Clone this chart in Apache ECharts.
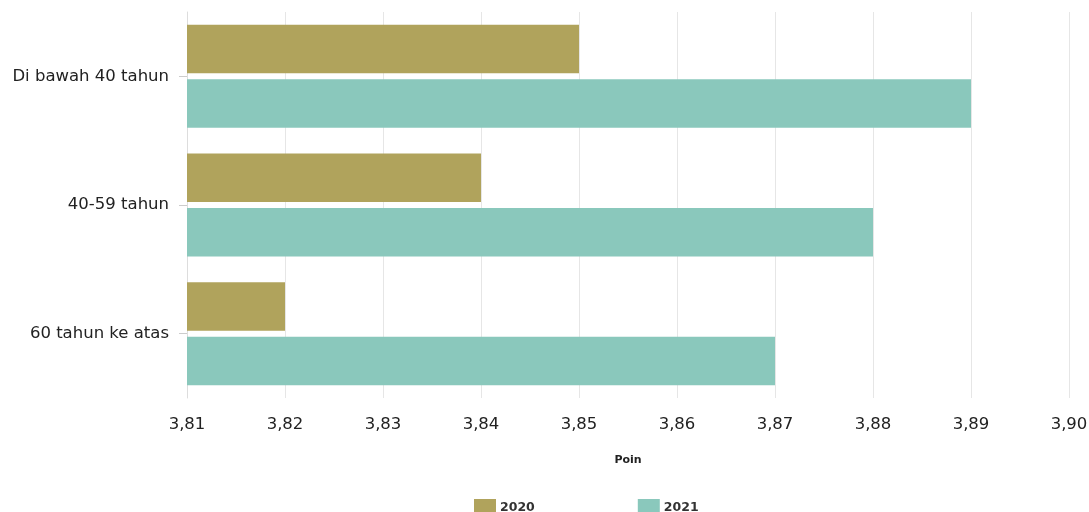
<!DOCTYPE html>
<html><head><meta charset="utf-8">
<script src="https://cdn.jsdelivr.net/npm/echarts@6/dist/echarts.min.js"></script>
<style>html,body{margin:0;padding:0;background:#fff}#c{width:1089px;height:512px}</style>
</head><body><div id="c"></div>
<script>
const categories = ["Di bawah 40 tahun", "40-59 tahun", "60 tahun ke atas"];
const values2020 = [3.85, 3.84, 3.82];
const values2021 = [3.89, 3.88, 3.87];
const seriesNames = ["2020", "2021"];
const xTicks = [3.81, 3.82, 3.83, 3.84, 3.85, 3.86, 3.87, 3.88, 3.89, 3.90];

const font = "DejaVu Sans, Verdana, sans-serif";
const chart = echarts.init(document.getElementById('c'));
chart.setOption({
  animation: false,
  grid: {left: 187, right: 20, top: 12, bottom: 114, outerBoundsMode: 'none', containLabel: false},
  legend: {
    bottom: -9, left: 469, itemWidth: 22, itemHeight: 17, itemGap: 103,
    icon: 'rect',
    textStyle: {fontFamily: font, fontSize: 12.5, fontWeight: 'bold', color: '#333', padding: [0, 0, 0, -1]},
    data: seriesNames
  },
  xAxis: {
    type: 'value', min: xTicks[0], max: xTicks[xTicks.length-1], interval: 0.01,
    name: 'Poin', nameLocation: 'middle', nameGap: 57,
    nameTextStyle: {fontFamily: font, fontSize: 11, fontWeight: 'bold', color: '#222'},
    axisLine: {show: false},
    axisTick: {show: true, length: 0},
    splitLine: {show: true, lineStyle: {color: '#e6e6e6'}},
    axisLabel: {fontFamily: font, fontSize: 16.5, color: '#222', margin: 18,
      formatter: v => v.toFixed(2).replace('.', ',')}
  },
  yAxis: {
    type: 'category', data: categories, inverse: true,
    axisLine: {show: true, lineStyle: {color: '#ddd'}},
    axisTick: {show: true, length: 8, alignWithLabel: true, lineStyle: {color: '#ccc'}},
    axisLabel: {fontFamily: font, fontSize: 16.5, color: '#222', margin: 18}
  },
  series: [
    {name: seriesNames[0], type: 'bar', data: values2020, barGap: '12.5%', barCategoryGap: '20%',
     itemStyle: {color: '#b0a35c'}},
    {name: seriesNames[1], type: 'bar', data: values2021,
     itemStyle: {color: '#8ac8bc'}}
  ]
});
</script></body></html>
